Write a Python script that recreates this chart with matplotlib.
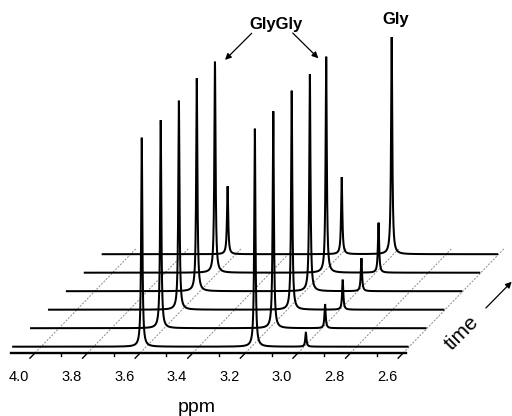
import numpy as np
import matplotlib
matplotlib.use("Agg")
from matplotlib import pyplot as plt

plt.rcParams['font.family'] = ['Liberation Sans', 'DejaVu Sans']

# ---- data (ppm, peak heights in arbitrary units) ----
gg_left_ppm   = [3.611, 3.607, 3.606, 3.606, 3.605, 3.625]
gg_left_int   = [209, 208, 209, 213, 211, 68]
gg_right_ppm  = [3.181, 3.179, 3.177, 3.176, 3.182, 3.191]
gg_right_int  = [218, 217, 219, 217, 216, 77]
gly_ppm       = [2.987, 2.982, 2.983, 2.980, 2.983, 3.001]
gly_int       = [14, 24, 30, 33, 50, 217]

tick_ppm = [4.0, 3.8, 3.6, 3.4, 3.2, 3.0, 2.8, 2.6]
tick_lbl = ['4.0', '3.8', '3.6', '3.4', '3.2', '3.0', '2.8', '2.6']
minor_ppm = [3.9, 3.7, 3.5, 3.3, 3.1, 2.9, 2.7]

# ---- geometry of the pseudo 3D stack ----
W, H = 512, 416
XL = (4.133, 2.186)
YL = (-63, 353)
ppm_per_px = (XL[0] - XL[1]) / W
DX, DY = 17.9, 18.5          # px shift per trace (depth direction)
X0, Y0 = 4.5, 6.3            # shift of the first trace from the axis
GAMMA = 0.0027               # lorentzian half width, ppm


def lorentz(x, x0, a):
    return a * GAMMA**2 / ((x - x0)**2 + GAMMA**2)


fig = plt.figure(figsize=(W / 100, H / 100), dpi=100)
ax = fig.add_axes([0, 0, 1, 1])
ax.set_xlim(*XL)
ax.set_ylim(*YL)
ax.axis('off')

x = np.linspace(4.1, 2.6, 15001)

# dotted depth grid + slanted major ticks
for p, lbl in zip(tick_ppm, tick_lbl):
    l0, l1 = 0.0, 5.65
    ax.plot([p - l0 * DX * ppm_per_px, p - l1 * DX * ppm_per_px],
            [l0 * DY, l1 * DY], color='#8a8a8a', lw=0.7,
            ls=(0, (2, 1.5)), zorder=1)
    ax.plot([p, p + 0.28 * DX * ppm_per_px], [0, -0.28 * DY],
            color='black', lw=1.0, zorder=3)
    ax.annotate(lbl, (p, 0), xytext=(-16, -24),
                textcoords='offset pixels', ha='center', va='center',
                fontsize=10.5)
for p in minor_ppm:
    ax.plot([p, p], [0, -3], color='black', lw=1.0, zorder=3)

# front axis line
ax.plot([4.091, 2.59], [0, 0], color='black', lw=1.7, zorder=3)

# spectra, back to front
for i in reversed(range(6)):
    y = (lorentz(x, gg_left_ppm[i], gg_left_int[i])
         + lorentz(x, gg_right_ppm[i], gg_right_int[i])
         + lorentz(x, gly_ppm[i], gly_int[i]))
    sx = (X0 + i * DX) * ppm_per_px
    sy = Y0 + i * DY
    ax.plot(x - sx, y + sy, color='black', lw=1.45, zorder=2,
            solid_joinstyle='miter')

# labels
ax.text(0.540, 0.940, 'GlyGly', transform=fig.transFigure, ha='center',
        va='center', fontsize=12, fontweight='bold')
ax.text(0.7734, 0.952, 'Gly', transform=fig.transFigure, ha='center',
        va='center', fontsize=12, fontweight='bold')
arw = dict(arrowstyle='-|>', color='black', lw=0.9, mutation_scale=9,
           shrinkA=0, shrinkB=0)
ax.annotate('', xy=(0.4395, 0.856), xytext=(0.4916, 0.920),
            xycoords='figure fraction', textcoords='figure fraction',
            arrowprops=arw)
ax.annotate('', xy=(0.6217, 0.860), xytext=(0.5717, 0.9207),
            xycoords='figure fraction', textcoords='figure fraction',
            arrowprops=arw)

ax.text(0.385, 0.0204, 'ppm', transform=fig.transFigure, ha='center',
        va='center', fontsize=14)
ax.text(0.902, 0.1995, 'time', transform=fig.transFigure, ha='center',
        va='center', fontsize=15, rotation=45)
ax.annotate('', xy=(0.9994, 0.3228), xytext=(0.949, 0.2596),
            xycoords='figure fraction', textcoords='figure fraction',
            arrowprops=arw)

plt.savefig('out.png', dpi=100)
